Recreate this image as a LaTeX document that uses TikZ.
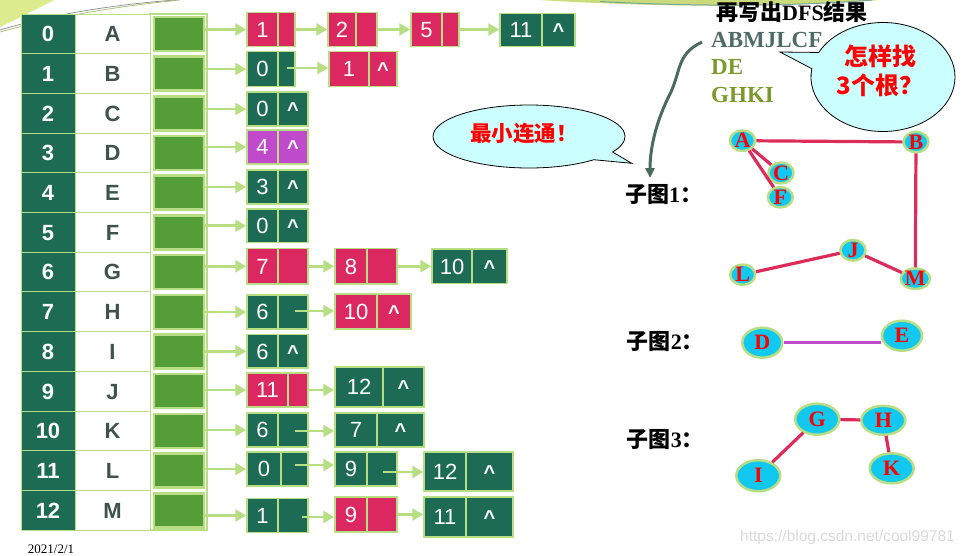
\documentclass[tikz,border=0pt]{standalone}
\usepackage{fontspec}
\setmainfont{Liberation Serif}
\newfontfamily\arial{Liberation Sans}
\newfontfamily\cjk{Noto Sans CJK SC}
\usetikzlibrary{arrows.meta,shapes.geometric,shapes.callouts}
\definecolor{teal1}{HTML}{1D6B55}
\definecolor{crim}{HTML}{DC2860}
\definecolor{mag}{HTML}{C04ACC}
\definecolor{lgreen}{HTML}{B8DE84}
\definecolor{pgreen}{HTML}{559D37}
\definecolor{lettc}{HTML}{3E5250}
\definecolor{bubc}{HTML}{CCFFFF}
\definecolor{nodecyan}{HTML}{10C8F0}
\definecolor{gedgec}{HTML}{DC2D5A}
\definecolor{arrowdk}{HTML}{4B6B5E}
\definecolor{abmc}{HTML}{4F6B68}
\definecolor{olivec}{HTML}{7C9A2C}
\definecolor{swoosh}{HTML}{DCEB8E}
\newcommand{\lcell}[9]{%
 \pgfmathsetmacro\lcw{#4-#2}\pgfmathsetmacro\lch{#6-#5}%
 \node[lbox,fill=#7,minimum width=\lcw pt,minimum height=\lch pt] (#1) at ({(#2+#4)/2},{(#5+#6)/2}) {};
 \draw[lboxline] (#3,#5) -- (#3,#6);
 \node[numtxt] at ({(#2+#3)/2},{(#5+#6)/2}) {#8};
 \node[numtxt,font=\arial\bfseries\fontsize{20}{20}\selectfont] at ({(#3+#4)/2},{(#5+#6)/2}) {#9};
}
\begin{document}
\begin{tikzpicture}[x=1pt,y=-1pt,
  idxcell/.style={rectangle,fill=teal1,draw=lgreen,line width=1pt,minimum width=54pt,minimum height=39.7pt,inner sep=0pt,text=white,font=\arial\bfseries\fontsize{22}{22}\selectfont,text height=15.8pt,text depth=0pt},
  letcell/.style={rectangle,fill=white,draw=lgreen,line width=1pt,minimum width=75pt,minimum height=39.7pt,inner sep=0pt,text=lettc,font=\arial\bfseries\fontsize{22}{22}\selectfont,text height=15.8pt,text depth=0pt},
  ptrcell/.style={rectangle,fill=pgreen,draw=lgreen,line width=2.5pt,minimum width=50pt,minimum height=34pt,inner sep=0pt},
  lbox/.style={rectangle,draw=lgreen,line width=1.5pt,inner sep=0pt},
  lboxline/.style={draw=lgreen,line width=1.2pt},
  numtxt/.style={inner sep=0pt,text=white,font=\arial\fontsize{22}{22}\selectfont,text height=15.8pt,text depth=0pt},
  arr/.style={draw=lgreen,line width=2.6pt,-{Triangle[length=11pt,width=12pt]}},
  gnode/.style={ellipse,fill=nodecyan,draw=lgreen,line width=2.5pt,inner sep=0pt,text=red,font=\bfseries\fontsize{22}{22}\selectfont},
  gsmall/.style={gnode,minimum width=25pt,minimum height=18pt},
  gbig/.style={gnode,minimum width=40pt,minimum height=30pt},
  gedge/.style={draw=gedgec,line width=3.2pt},
  sglabel/.style={anchor=west,inner sep=0pt,font=\cjk\bfseries\fontsize{22}{22}\selectfont},
  bubble/.style={ellipse callout,draw=black,line width=0.8pt,fill=bubc,inner sep=0pt,callout pointer arc=18}
]
\useasboundingbox (0,0) rectangle (965,555);
% decorations at top
\fill[swoosh] (0,0) -- (54,0) .. controls (35,10) and (15,20) .. (0,27) -- cycle;
\draw[black!45,line width=0.7pt] (0,30) .. controls (50,15) and (110,5) .. (175,0);
\draw[olivec!70,line width=0.7pt] (0,32) .. controls (50,18) and (110,7) .. (180,0);
\fill[swoosh!80!olivec] (540,0) .. controls (650,7) and (780,8) .. (880,0) -- cycle;
\draw[teal1!60,line width=1pt] (600,1.5) .. controls (700,7) and (800,6) .. (872,0);
% table
\draw[lgreen,line width=1.2pt] (150,14) rectangle (207,530);
\foreach \L [count=\r from 0] in {A,B,C,D,E,F,G,H,I,J,K,L,M}{
  \pgfmathsetmacro\yc{33.85+39.7*\r}
  \node[idxcell] (idx\r) at (48,\yc) {\r};
  \node[letcell] (let\r) at (112.5,\yc) {\L};
  \node[ptrcell] (p\r) at (179,\yc) {};
}
% adjacency lists
\lcell{f0}{247}{278}{295}{12.5}{46.5}{crim}{1}{}
\lcell{b0}{328}{356}{377}{12.5}{46.5}{crim}{2}{}
\lcell{c0}{411}{442}{459}{12.5}{46.5}{crim}{5}{}
\lcell{d0}{500}{542}{575}{13.5}{46.5}{teal1}{11}{\textasciicircum}
\lcell{f1}{247}{278}{295}{51.5}{86.5}{teal1}{0}{}
\lcell{b1}{329}{369}{397}{51.5}{86.5}{crim}{1}{\textasciicircum}
\lcell{f2}{247}{278}{308}{92}{126}{teal1}{0}{\textasciicircum}
\lcell{f3}{247}{278}{308}{130}{164}{mag}{4}{\textasciicircum}
\lcell{f4}{247}{278}{308}{170}{204}{teal1}{3}{\textasciicircum}
\lcell{f5}{247}{278}{308}{209}{242.5}{teal1}{0}{\textasciicircum}
\lcell{f6}{247}{278}{308}{248.5}{284}{crim}{7}{}
\lcell{b6}{335}{367}{397}{248.5}{284}{crim}{8}{}
\lcell{c6}{432}{472}{507}{249}{283.5}{teal1}{10}{\textasciicircum}
\lcell{f7}{247}{278}{308}{295}{329}{teal1}{6}{}
\lcell{b7}{335}{377}{411}{294}{329}{crim}{10}{\textasciicircum}
\lcell{f8}{247}{278}{308}{334.5}{368}{teal1}{6}{\textasciicircum}
\lcell{f9}{247}{288}{308}{373}{407}{crim}{11}{}
\lcell{b9}{335}{383}{424}{367}{407}{teal1}{12}{\textasciicircum}
\lcell{f10}{247}{278}{308}{413}{447}{teal1}{6}{}
\lcell{b10}{335}{377}{424}{413}{447}{teal1}{7}{\textasciicircum}
\lcell{f11}{247}{281}{308}{452}{486}{teal1}{0}{}
\lcell{b11}{335}{367}{397}{452}{486}{teal1}{9}{}
\lcell{c11}{424}{466}{513}{452}{491}{teal1}{12}{\textasciicircum}
\lcell{f12}{247}{278}{308}{498.5}{532.5}{teal1}{1}{}
\lcell{b12}{335}{367}{397}{497}{532}{crim}{9}{}
\lcell{c12}{424}{466}{513}{497}{537}{teal1}{11}{\textasciicircum}
% arrows
\foreach \r in {0,...,12}{\draw[arr] (p\r.east |- f\r.west) -- (f\r.west);}
\draw[arr] (f0.east) -- (f0.east -| b0.west);
\draw[arr] (b0.east) -- (b0.east -| c0.west);
\draw[arr] (c0.east) -- (c0.east -| d0.west);
\coordinate (s1) at (287,68);
\draw[arr] (s1) -- (s1 -| b1.west);
\draw[arr] (f6.east) -- (f6.east -| b6.west);
\draw[arr] (b6.east) -- (b6.east -| c6.west);
\coordinate (s7) at (295,311);
\draw[arr] (s7) -- (s7 -| b7.west);
\draw[arr] (f9.east) -- (f9.east -| b9.west);
\coordinate (s10) at (295,431);
\draw[arr] (s10) -- (s10 -| b10.west);
\coordinate (s11a) at (295,465);
\draw[arr] (s11a) -- (s11a -| b11.west);
\coordinate (s11b) at (383,472);
\draw[arr] (s11b) -- (s11b -| c11.west);
\coordinate (s12a) at (302,517);
\draw[arr] (s12a) -- (s12a -| b12.west);
\draw[arr] (b12.east) -- (b12.east -| c12.west);
% DFS result text
\node[inner sep=0pt,font=\cjk\bfseries\fontsize{22}{22}\selectfont] (t0) at (792,12.5) {再写出{\rmfamily\bfseries DFS}结果};
\node[anchor=west,inner sep=0pt,text=abmc,font=\bfseries\fontsize{23}{23}\selectfont] (r1) at (711,40) {ABMJLCF};
\node[anchor=west,inner sep=0pt,text=olivec,font=\bfseries\fontsize{23}{23}\selectfont] (r2) at (711,67) {DE};
\node[anchor=west,inner sep=0pt,text=olivec,font=\bfseries\fontsize{23}{23}\selectfont] (r3) at (711,94.5) {GHKI};
% callouts
\node[bubble,minimum width=144pt,minimum height=109pt,callout absolute pointer={(780,52)}] (bub2) at (883,77) {};
\node[inner sep=0pt,align=center,text=red,font=\cjk\bfseries\fontsize{24}{29}\selectfont] (bub2t) at (880,71) {怎样找\\3个根？};
\node[bubble,minimum width=192pt,minimum height=63pt,callout absolute pointer={(631.7,163.3)}] (bub1) at (529,136.5) {};
\node[inner sep=0pt,text=red,font=\cjk\bfseries\fontsize{21.5}{21.5}\selectfont] (bub1t) at (524,133) {最小连通！};
% subgraph labels
\node[sglabel] (lab1) at (625,195) {子图{\rmfamily 1}：};
\node[sglabel] (lab2) at (626.7,342) {子图{\rmfamily 2}：};
\node[sglabel] (lab3) at (626.7,440) {子图{\rmfamily 3}：};
% curved arrow
\coordinate (cs) at (702,42);
\coordinate (ce) at (650,178);
\draw[arrowdk,line width=3pt,-{Triangle[length=10pt,width=9pt]}] (cs) .. controls (675,55) and (682,72) .. (668,98) .. controls (655,125) and (650,150) .. (ce);
% subgraph 1
\node[gsmall] (A) at (742.5,140.7) {A};
\node[gsmall] (B) at (916,142) {B};
\node[gsmall] (C) at (781,173) {C};
\node[gsmall] (F) at (780.3,197.3) {F};
\node[gsmall] (J) at (853,250.3) {J};
\node[gsmall] (L) at (742.7,274.7) {L};
\node[gsmall] (M) at (915.3,278.7) {M};
\draw[gedge] (A) -- (B);
\draw[gedge] (A) -- (C);
\draw[gedge] (A) -- (F);
\draw[gedge] (B) -- (M);
\draw[gedge] (J) -- (L);
\draw[gedge] (J) -- (M);
% subgraph 2
\node[gbig] (D) at (762.3,342.7) {D};
\node[gbig] (E) at (902,335.7) {E};
\draw[draw=mag,line width=3.2pt] (D.east) -- (D.east -| E.west);
% subgraph 3
\node[gbig,minimum width=44pt,minimum height=31pt] (G) at (817.2,419.2) {G};
\node[gbig,minimum width=44pt,minimum height=29pt] (H) at (883.3,420.3) {H};
\node[gbig,minimum width=44pt,minimum height=30pt] (K) at (891.7,468.3) {K};
\node[gbig,minimum width=44pt,minimum height=31pt] (I) at (758.3,475.7) {I};
\draw[gedge] (G) -- (I);
\draw[gedge] (G) -- (H);
\draw[gedge] (H) -- (K);
% footer
\node[inner sep=0pt,text=black!15,font=\arial\fontsize{15.5}{15.5}\selectfont] (wm) at (847.5,537) {https://blog.csdn.net/cool99781};
\node[inner sep=0pt,font=\fontsize{13}{13}\selectfont] (date) at (51,549) {2021/2/1};
\end{tikzpicture}
\end{document}
